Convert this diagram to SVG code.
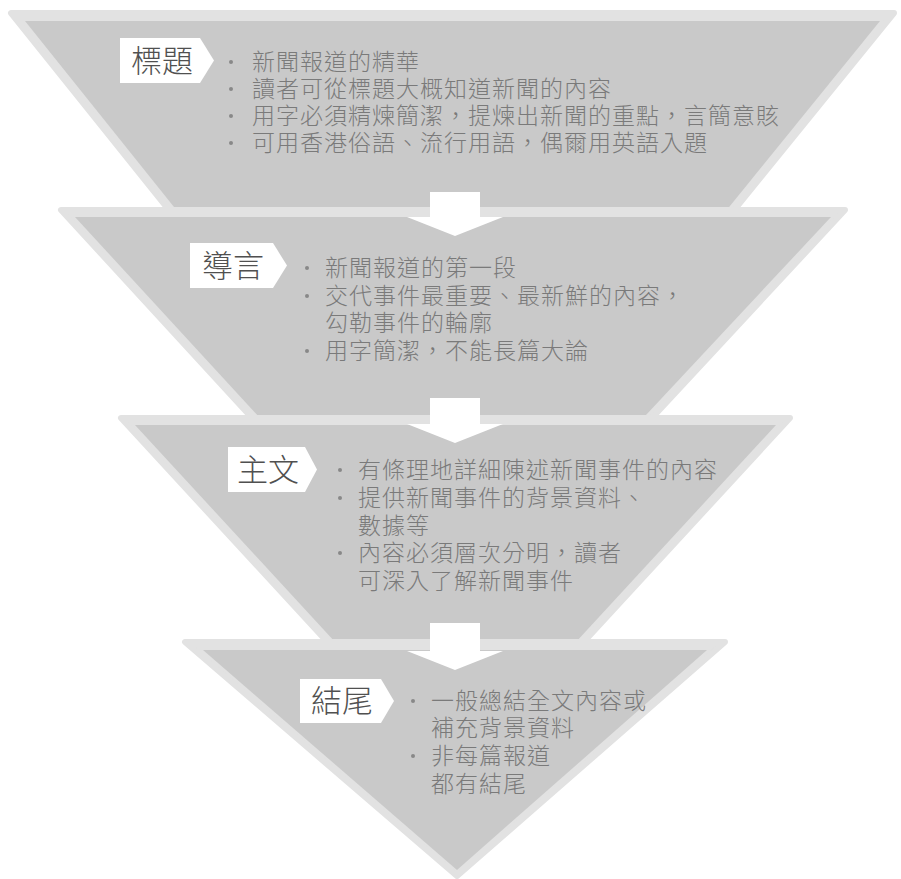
<svg xmlns="http://www.w3.org/2000/svg" width="901" height="879" viewBox="0 0 901 879">
<style>
.rim{fill:#e2e2e2;stroke:#e2e2e2;stroke-width:6;stroke-linejoin:round}
.core{fill:#c9c9c9}
.tag{fill:#ffffff}
.tagt{font-family:"Noto Sans CJK TC","Noto Sans CJK SC",sans-serif;font-size:31px;font-weight:300;fill:#505050;text-anchor:middle}
.bt{font-family:"Noto Sans CJK TC","Noto Sans CJK SC",sans-serif;font-size:23px;font-weight:300;letter-spacing:1px;fill:#7a7a7a}
.dot{fill:#888888}
.arrow{fill:#ffffff}
</style>
<rect width="901" height="879" fill="#ffffff"/>
<g id="sec-headline">
<polygon class="rim" points="11,13 894,13 722,225 181,225"/>
<polygon class="core" points="25,21 880,21 717,222 186,222"/>
<polygon class="tag" points="120,38 200,38 214,60.5 200,83 120,83"/>
<text class="tagt" x="162" y="72">標題</text>
<circle class="dot" cx="231" cy="62" r="2"/><text class="bt" x="252" y="70">新聞報道的精華</text>
<circle class="dot" cx="231" cy="89" r="2"/><text class="bt" x="252" y="97">讀者可從標題大概知道新聞的內容</text>
<circle class="dot" cx="231" cy="116" r="2"/><text class="bt" x="252" y="124">用字必須精煉簡潔，提煉出新聞的重點，言簡意賅</text>
<circle class="dot" cx="231" cy="143" r="2"/><text class="bt" x="252" y="151">可用香港俗語、流行用語，偶爾用英語入題</text>
</g>
<g id="sec-lead">
<polygon class="rim" points="61,210 845,210 639,432 265,432"/>
<polygon class="core" points="75,217 831,217 632,430 271,430"/>
<polygon class="tag" points="190,243 273,243 287,265.5 273,288 190,288"/>
<text class="tagt" x="233" y="277">導言</text>
<circle class="dot" cx="307" cy="268" r="2"/><text class="bt" x="325" y="276">新聞報道的第一段</text>
<circle class="dot" cx="307" cy="296" r="2"/><text class="bt" x="325" y="304">交代事件最重要、最新鮮的內容，</text>
<text class="bt" x="325" y="331">勾勒事件的輪廓</text>
<circle class="dot" cx="307" cy="351" r="2"/><text class="bt" x="325" y="359">用字簡潔，不能長篇大論</text>
</g>
<g id="sec-body">
<polygon class="rim" points="121,418 790,418 569,658 342,658"/>
<polygon class="core" points="135,425 776,425 564,655 347,655"/>
<polygon class="tag" points="228,447 305,447 317,469.5 305,492 228,492"/>
<text class="tagt" x="268" y="481">主文</text>
<circle class="dot" cx="340" cy="470" r="2"/><text class="bt" x="358" y="478">有條理地詳細陳述新聞事件的內容</text>
<circle class="dot" cx="340" cy="498" r="2"/><text class="bt" x="358" y="506">提供新聞事件的背景資料、</text>
<text class="bt" x="358" y="534">數據等</text>
<circle class="dot" cx="340" cy="553" r="2"/><text class="bt" x="358" y="561">內容必須層次分明，讀者</text>
<text class="bt" x="358" y="589">可深入了解新聞事件</text>
</g>
<g id="sec-ending">
<polygon class="rim" points="185,642 725,642 457,876"/>
<polygon class="core" points="203,650 707,650 457,870"/>
<polygon class="tag" points="300,679 381,679 394,701 381,723 300,723"/>
<text class="tagt" x="342" y="712">結尾</text>
<circle class="dot" cx="413" cy="701" r="2"/><text class="bt" x="431" y="709">一般總結全文內容或</text>
<text class="bt" x="431" y="736">補充背景資料</text>
<circle class="dot" cx="413" cy="756" r="2"/><text class="bt" x="431" y="764">非每篇報道</text>
<text class="bt" x="431" y="792">都有結尾</text>
</g>
<g id="connectors">
<path class="arrow" d="M430,192 H480 V217 H503 L455,236 L407,217 H430 Z"/>
<path class="arrow" d="M430,398 H480 V424 H503 L455,443 L407,424 H430 Z"/>
<path class="arrow" d="M430,623 H480 V651 H503 L455,670 L407,651 H430 Z"/>
</g>
</svg>
